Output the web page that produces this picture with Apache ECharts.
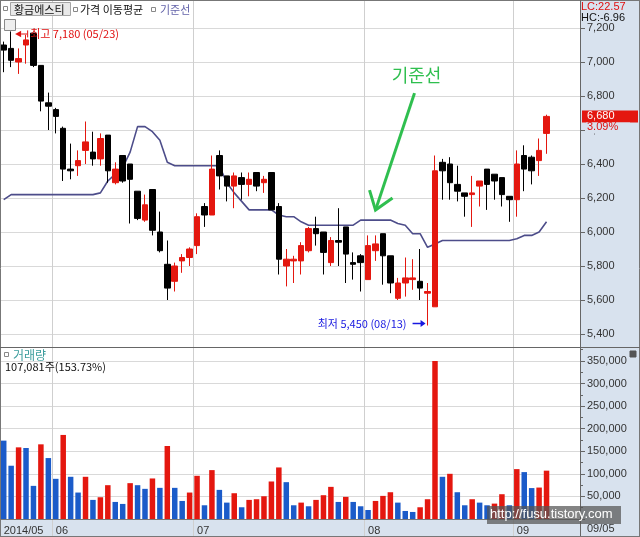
<!DOCTYPE html>
<html><head><meta charset="utf-8">
<script src="https://cdn.jsdelivr.net/npm/echarts@6.0.0/dist/echarts.min.js"></script>
<style>html,body{margin:0;padding:0;background:#fff}#c{width:640px;height:537px}</style>
</head><body><div id="c"></div>
<script>
const dates = [
'2014-05-22','2014-05-23','2014-05-26','2014-05-27','2014-05-28','2014-05-29','2014-05-30',
'2014-06-02','2014-06-03','2014-06-05','2014-06-09','2014-06-10','2014-06-11','2014-06-12','2014-06-13','2014-06-16','2014-06-17','2014-06-18','2014-06-19','2014-06-20','2014-06-23','2014-06-24','2014-06-25','2014-06-26','2014-06-27','2014-06-30',
'2014-07-01','2014-07-02','2014-07-03','2014-07-04','2014-07-07','2014-07-08','2014-07-09','2014-07-10','2014-07-11','2014-07-14','2014-07-15','2014-07-16','2014-07-17','2014-07-18','2014-07-21','2014-07-22','2014-07-23','2014-07-24','2014-07-25','2014-07-28','2014-07-29','2014-07-30','2014-07-31',
'2014-08-01','2014-08-04','2014-08-05','2014-08-06','2014-08-07','2014-08-08','2014-08-11','2014-08-12','2014-08-13','2014-08-14','2014-08-18','2014-08-19','2014-08-20','2014-08-21','2014-08-22','2014-08-25','2014-08-26','2014-08-27','2014-08-28','2014-08-29',
'2014-09-01','2014-09-02','2014-09-03','2014-09-04','2014-09-05'];
const openP = [7100,7080,7000,7100,7170,6980,6760,6720,6610,6370, 6390,6480,6470,6430,6570,6290,6450,6400,6240,6070, 6250,6000,5810,5710,5830,5850,5920,6150,6100,6450, 6330,6270,6320,6280,6350,6290,6350,6150,5800,5830, 5830,5890,6020,6000,5820,5950,6030,5820,5860,5720, 5890,5990,5860,5610,5700,5720,5710,5640,5560,6410, 6400,6280,6230,6220,6270,6370,6340,6320,6210,6190, 6450,6440,6420,6580];
const closeP = [7070,7010,7020,7130,6980,6770,6740,6680,6370,6360, 6420,6530,6430,6550,6360,6370,6300,6310,6080,6160, 6010,5890,5670,5800,5850,5900,6090,6100,6370,6330, 6270,6330,6280,6310,6270,6310,6130,5840,5840,5840, 5920,6020,5990,5880,5950,5940,5870,5810,5820,5920, 5930,5860,5700,5700,5730,5730,5670,5650,6360,6360, 6290,6240,6210,6230,6300,6280,6300,6220,6190,6400, 6370,6360,6480,6680];
const lowP = [6940,6970,6930,6990,6970,6710,6600,6580,6300,6310, 6330,6400,6390,6390,6290,6280,6290,6050,6070,6060, 5980,5880,5600,5650,5760,5800,5870,6030,6100,6250, 6180,6140,6190,6210,6240,6230,6130,5750,5680,5700, 5750,5880,5920,5750,5800,5800,5700,5720,5650,5720, 5830,5690,5640,5600,5620,5660,5600,5450,5560,6190, 6190,6180,6090,6030,6150,6130,6190,6150,6060,6090, 6240,6280,6330,6460];
const highP = [7120,7180,7080,7160,7170,6980,6820,6730,6620,6520, 6480,6650,6590,6580,6570,6410,6450,6400,6240,6220, 6250,6120,5950,5820,5870,5910,6110,6170,6450,6480, 6330,6350,6350,6350,6350,6330,6350,6170,5900,5860, 5940,6030,6090,6000,5970,6140,6030,5880,5870,5980, 5980,5990,5860,5730,5850,5840,5900,5700,6450,6430, 6440,6390,6230,6330,6300,6370,6340,6320,6210,6480, 6510,6450,6550,6690];
const volume = [173600,118000,158700,157300,73400,165400,135000,89000,186200,93500, 58600,93500,42300,48200,74900,37800,33400,79400,74900,66800, 89800,69000,161700,69000,40000,58600,95700,30400,108300,64500, 36300,57100,26000,42300,43800,50400,83100,114200,81600,30400, 36300,28200,42300,52700,71200,37800,49000,37800,28200,20000, 40000,51200,59300,36300,17800,15600,26000,43800,350000,93500, 100100,59300,30400,43800,36300,30400,34100,54900,30400,110500, 103900,68500,69660,107081];
const kijun = [6190, 6220,6220,6220,6220,6220,6220,6220,6220,6220,6220,6220,6220,
 6230,6300,6340,6380,6470,6620,6620,6590,6540,6410,
 6390,6390,6390,6390,6390,6390,6390,
 6290,6230,6180,6130,6130,6130,6130,6100,6090,6090,6060,
 6040,6040,6040,6040,6040,6040,6040,
 6070,6070,6070,6070,6070,
 6050,6040,5990,5990,5910,5930,
 5950,5950,5950,5950,5950,5950,5950,5950,5950,5950,
 5960,5980,5980,6000,6060];
const priceAxis = {min:5400, max:7200, step:200};
const volAxis = {min:0, max:381000, step:50000};
const SLOTS = 78;

const UP = '#e4170f', DOWN = '#000000', VOLDOWN = '#1b5bc9', PANEL = '#d8e2ee';
const FF = '"Liberation Sans","Noto Sans CJK KR",sans-serif';
const KF = '"Noto Sans CJK KR","Liberation Sans",sans-serif';
const N = dates.length;
const monthStart = i => i > 0 && i < N && dates[i].slice(5,7) !== dates[i-1].slice(5,7);
const fmt = v => Math.round(v).toLocaleString('en-US');
const md = d => d.slice(5,7) + '/' + d.slice(8,10);

const candleData = dates.map((d,i)=>[openP[i], closeP[i], lowP[i], highP[i]]);
const volData = volume.map((v,i)=>({value:v, itemStyle:{color: (i>0 && v>volume[i-1]) ? UP : VOLDOWN}}));

const chart = echarts.init(document.getElementById('c'), null, {renderer:'canvas'});
const option = {
  animation:false,
  backgroundColor:'#fff',
  grid:[
    {left:0,right:60,top:28,height:306},
    {left:0,right:60,top:347,height:172},
    {left:0,right:60,top:1,height:536}
  ],
  xAxis:[
    {type:'category',gridIndex:0,data:dates,max:SLOTS-1,boundaryGap:true,axisLine:{show:false},axisTick:{show:false},axisLabel:{show:false},splitLine:{show:false}},
    {type:'category',gridIndex:1,data:dates,max:SLOTS-1,boundaryGap:true,axisLine:{show:false},axisTick:{show:false},splitLine:{show:false},
      axisLabel:{interval:(i)=> i===0 || monthStart(i),
        formatter:(v,i)=> i===0 ? v.slice(0,4)+'/'+v.slice(5,7) : v.slice(5,7),
        align:'left', margin:6, fontSize:11, color:'#333', fontFamily:FF}},
    {type:'category',gridIndex:2,data:dates,max:SLOTS-1,boundaryGap:true,axisLine:{show:false},axisTick:{show:false},axisLabel:{show:false},
      splitLine:{show:true,interval:(i)=>monthStart(i),lineStyle:{color:'#cfcfcf',width:1}}}
  ],
  yAxis:[
    {type:'value',gridIndex:0,position:'right',min:priceAxis.min,max:priceAxis.max,interval:priceAxis.step,
      axisLine:{show:true,lineStyle:{color:'#666'}},axisTick:{show:true,length:5,lineStyle:{color:'#666'}},
      axisLabel:{margin:7,fontSize:11,color:'#333',fontFamily:FF,formatter:fmt},
      splitLine:{show:true,lineStyle:{color:'#d9d9d9'}}},
    {type:'value',gridIndex:1,position:'right',min:volAxis.min,max:volAxis.max,interval:volAxis.step,
      axisLine:{show:true,lineStyle:{color:'#666'}},axisTick:{show:true,length:5,lineStyle:{color:'#666'}},
      minorTick:{show:true,splitNumber:2,length:3,lineStyle:{color:'#666'}},
      axisLabel:{margin:7,fontSize:11,color:'#333',fontFamily:FF,formatter:fmt,showMinLabel:false,showMaxLabel:false},
      splitLine:{show:true,lineStyle:{color:'#d9d9d9'}}},
    {type:'value',gridIndex:2,min:0,max:1,show:false}
  ],
  series:[
    {type:'line',xAxisIndex:0,yAxisIndex:0,data:kijun,showSymbol:false,z:1,lineStyle:{color:'#4d4d8a',width:1.6}},
    {type:'candlestick',xAxisIndex:0,yAxisIndex:0,data:candleData,barWidth:6,z:3,
      itemStyle:{color:UP,color0:DOWN,borderColor:UP,borderColor0:DOWN,borderWidth:1}},
    {type:'bar',xAxisIndex:1,yAxisIndex:1,data:volData,barWidth:5.5}
  ]
};
chart.setOption(option);

// annotations anchored to data
const hiIdx = highP.indexOf(Math.max(...highP));
const loIdx = lowP.indexOf(Math.min(...lowP));
const hp = chart.convertToPixel({gridIndex:0},[hiIdx, highP[hiIdx]]);
const lp = chart.convertToPixel({gridIndex:0},[loIdx, lowP[loIdx]]);
const kIdx = 50;
const kp = chart.convertToPixel({gridIndex:0},[kIdx, kijun[kIdx]]);
const last = closeP[N-1], prev = closeP[N-2];
const lastY = chart.convertToPixel({yAxisIndex:0}, last);
const pct = ((last/prev - 1)*100).toFixed(2) + '%';

function txt(x,y,text,fill,font,align,z){
  return {type:'text',z:z||60,style:{x:x,y:y,text:text,fill:fill,font:font,
    textAlign:align||'left',align:align||'left',textVerticalAlign:'middle',verticalAlign:'middle'}};
}
function line(x1,y1,x2,y2,color,w,z){
  return {type:'line',z:z||50,shape:{x1:x1,y1:y1,x2:x2,y2:y2},style:{stroke:color,lineWidth:w||1}};
}
function box(x,y,w,h,fill,stroke,z){
  return {type:'rect',z:z==null?55:z,shape:{x:x,y:y,width:w,height:h},style:{fill:fill,stroke:stroke||null,lineWidth:1}};
}
const tip = [kp[0], kp[1]-10];
const g = [
  box(580,0,60,537,PANEL,null,-10),
  box(0,520,580,17,PANEL,null,-10),
  line(0,0.5,640,0.5,'#777'),
  line(0.5,0,0.5,537,'#777'),
  line(639.5,0,639.5,537,'#777'),
  line(580.5,0,580.5,537,'#666'),
  line(0,347.5,640,347.5,'#666'),
  line(0,519.5,580,519.5,'#777'),
  line(0,536.5,640,536.5,'#777'),
  // legend row
  box(3.5,6.5,4,4,'#fff','#888'),
  box(10.5,2.5,60,13,'#e9e9e9','#a5a5a5'),
  txt(14,9.5,'황금에스티','#111','11px '+KF),
  box(73.5,7.5,4,4,'#fff','#888'),
  txt(80,9.5,'가격 이동평균','#111','11px '+KF),
  box(151.5,7.5,4,4,'#fff','#888'),
  txt(160,9.5,'기준선','#6464aa','11px '+KF),
  // small grid icon
  box(4.5,19.5,11,11,'#eeeeee','#888'),
  line(7.5,22,7.5,29,'#888'),line(10,22,10,29,'#888'),line(12.5,22,12.5,29,'#888'),
  // top right info
  box(582,1,56,22,PANEL,null,58),
  txt(581,7,'LC:22.57','#e01010','11px '+FF,'left',60),
  txt(581,18,'HC:-6.96','#111','11px '+FF,'left',60),
  // volume panel
  box(4.5,352.5,4,4,'#fff','#888'),
  txt(13,355,'거래량','#3a9c9c','12px '+KF),
  txt(5,367,'107,081주(153.73%)','#111','11px '+KF),
  box(630,351,6,6,'#555','#555'),
  line(631,352,635,356,'#fff'),line(635,352,631,356,'#fff'),
  txt(587,528.5,md(dates[N-1]),'#333','11px '+FF),
  // watermark
  box(487,506,134,18,'rgba(85,85,85,0.72)',null,70),
  txt(490,514,'http://fusu.tistory.com','#ffffff','13px '+FF,'left',71),
  // highest annotation
  {type:'polygon',z:60,shape:{points:[[hp[0]+4,hp[1]+2.6],[hp[0]+10,hp[1]-0.6],[hp[0]+10,hp[1]+5.8]]},style:{fill:'#e01010'}},
  line(hp[0]+10,hp[1]+2.6,hp[0]+16,hp[1]+2.6,'#e01010'),
  line(hp[0]+16.5,hp[1]-1,hp[0]+16.5,hp[1]+6,'#e01010'),
  txt(hp[0]+19,hp[1]+2.6,'최고 '+fmt(highP[hiIdx])+' ('+md(dates[hiIdx])+')','#e01010','11px '+KF),
  // lowest annotation
  txt(lp[0]-21,lp[1]-2,'최저 '+fmt(lowP[loIdx])+' ('+md(dates[loIdx])+')','#1818e0','11px '+KF,'right'),
  line(lp[0]-15,lp[1]-2,lp[0]-5,lp[1]-2,'#1818e0',1.5),
  {type:'polygon',z:60,shape:{points:[[lp[0]-2,lp[1]-2],[lp[0]-7,lp[1]-5.5],[lp[0]-7,lp[1]+1.5]]},style:{fill:'#1818e0'}},
  // kijun callout
  txt(tip[0]+41,tip[1]-135,'기준선','#2fbf4f','18px '+KF,'center'),
  line(tip[0]+39,tip[1]-117,tip[0],tip[1],'#2fbf4f',3),
  {type:'polyline',z:50,shape:{points:[[tip[0]-6,tip[1]-20],[tip[0],tip[1]],[tip[0]+17,tip[1]-12]]},style:{stroke:'#2fbf4f',lineWidth:3,fill:null}},
  // last price box
  box(582,lastY-6,56,12,'#e4170f',null,60),
  txt(587,lastY,fmt(last),'#ffffff','11px '+FF,'left',61),
  box(586,lastY+6,44,11,PANEL,null,60),
  txt(587,lastY+11,pct,'#e01010','11px '+FF,'left',61)
];
chart.setOption({graphic:{elements:g}});
</script>
</body></html>
